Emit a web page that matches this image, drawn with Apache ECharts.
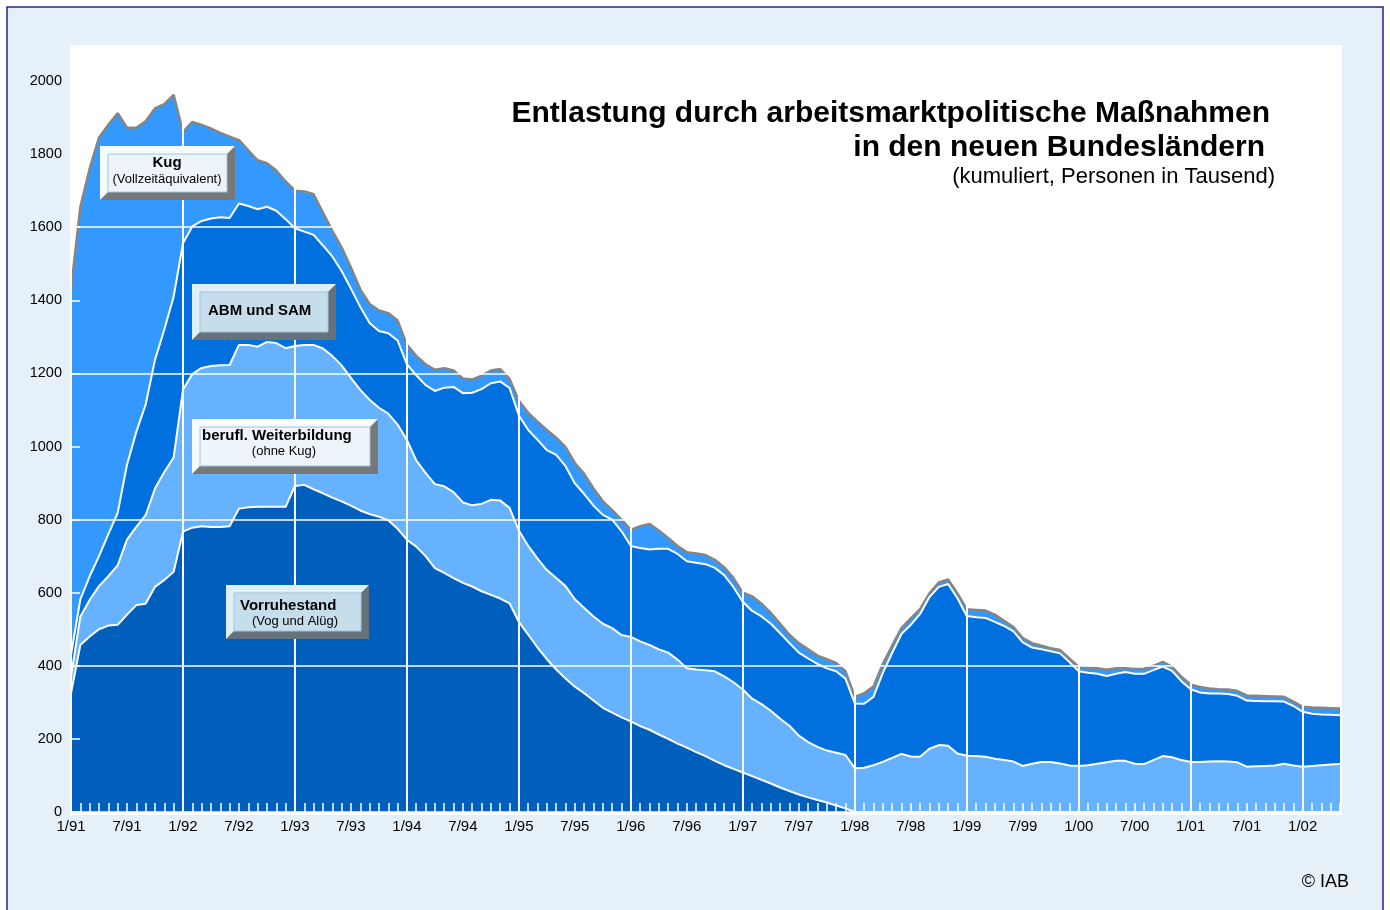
<!DOCTYPE html>
<html>
<head>
<meta charset="utf-8">
<script src="https://cdn.jsdelivr.net/npm/echarts@6/dist/echarts.min.js"></script>
<style>
html, body { margin: 0; padding: 0; background: #fff; }
#chart { width: 1390px; height: 910px; }
</style>
</head>
<body>
<div id="chart"></div>
<script>
// Monatswerte 1/91 .. 5/02 (Personen in Tausend)
const vorruhestand = [
  325, 457, 480, 500, 510, 512, 540, 566, 570, 616, 635, 657,
  767, 778, 782, 780, 780, 782, 830, 834, 835, 835, 835, 835,
  892, 895, 883, 872, 860, 850, 838, 825, 815, 808, 798, 775,
  745, 726, 700, 667, 654, 640, 627, 617, 604, 594, 584, 571,
  520, 485, 450, 418, 390, 365, 343, 325, 305, 285, 272, 259,
  248, 235, 225, 212, 200, 187, 176, 164, 153, 140, 128, 118,
  108, 98, 88, 78, 67, 57, 48, 40, 33, 26, 18, 10,
  0, 0, 0, 0, 0, 0, 0, 0, 0, 0, 0, 0,
  0, 0, 0, 0, 0, 0, 0, 0, 0, 0, 0, 0,
  0, 0, 0, 0, 0, 0, 0, 0, 0, 0, 0, 0,
  0, 0, 0, 0, 0, 0, 0, 0, 0, 0, 0, 0,
  0, 0, 0, 0, 0
]
const weiterbildung = [
  45, 77, 100, 118, 135, 163, 205, 214, 242, 269, 295, 313,
  388, 420, 433, 440, 442, 441, 448, 444, 438, 451, 448, 434,
  383, 383, 395, 396, 388, 372, 350, 330, 313, 298, 292, 285,
  273, 236, 228, 230, 237, 235, 220, 222, 239, 260, 268, 261,
  250, 243, 243, 244, 250, 253, 239, 233, 230, 230, 231, 225,
  231, 232, 232, 233, 236, 230, 217, 226, 235, 245, 243, 237,
  227, 212, 207, 199, 188, 179, 161, 151, 145, 142, 144, 146,
  120, 121, 128, 137, 148, 159, 152, 151, 173, 183, 181, 160,
  154, 153, 151, 146, 142, 138, 126, 132, 137, 137, 133, 127,
  126, 128, 132, 136, 140, 140, 132, 131, 142, 153, 150, 142,
  137, 137, 138, 139, 138, 136, 124, 125, 126, 127, 132, 127,
  124, 126, 128, 130, 131
]
const abmSam = [
  60, 48, 65, 82, 115, 143, 205, 260, 303, 352, 390, 440,
  401, 404, 402, 404, 405, 402, 387, 380, 376, 370, 362, 353,
  322, 310, 301, 282, 272, 258, 244, 227, 210, 210, 220, 230,
  207, 233, 240, 255, 270, 288, 299, 308, 314, 319, 326, 328,
  315, 317, 325, 328, 337, 328, 317, 312, 303, 298, 297, 284,
  249, 255, 261, 275, 284, 289, 293, 292, 290, 283, 277, 260,
  240, 240, 240, 238, 234, 226, 227, 229, 227, 225, 223, 209,
  177, 175, 187, 243, 287, 328, 360, 391, 415, 433, 443, 425,
  382, 380, 380, 374, 367, 356, 338, 318, 308, 303, 301, 283,
  259, 253, 246, 236, 238, 243, 246, 247, 246, 245, 236, 216,
  199, 190, 186, 185, 185, 182, 181, 179, 177, 176, 170, 163,
  150, 143, 139, 136, 134
]
const kug = [
  1000, 1073, 1115, 1145, 1120, 1094, 922, 832, 775, 688, 617, 552,
  304, 286, 263, 246, 231, 223, 173, 152, 134, 119, 110, 103,
  103, 110, 111, 90, 70, 65, 58, 48, 52, 56, 55, 55,
  53, 53, 57, 58, 53, 45, 40, 36, 37, 35, 34, 25,
  40, 47, 50, 55, 47, 52, 56, 55, 47, 37, 26, 32,
  44, 60, 70, 50, 30, 22, 25, 25, 25, 22, 22, 25,
  25, 40, 35, 30, 26, 23, 26, 25, 23, 25, 23, 20,
  18, 29, 28, 25, 20, 16, 18, 13, 10, 12, 12, 13,
  19, 20, 20, 20, 14, 12, 12, 12, 10, 8, 9, 10,
  12, 14, 15, 17, 15, 10, 13, 14, 12, 13, 11, 12,
  12, 15, 14, 12, 12, 13, 14, 14, 14, 13, 13, 12,
  14, 17, 18, 18, 18
]
const yTicks = [0, 200, 400, 600, 800, 1000, 1200, 1400, 1600, 1800, 2000]

// Monatskategorien 1/91 .. 5/02
const months = []
for (let i = 0; i < vorruhestand.length; i++) {
  const yy = (91 + Math.floor(i / 12)) % 100
  months.push((i % 12 + 1) + '/' + String(yy).padStart(2, '0'))
}

const FONT = '"Liberation Sans", Arial, sans-serif'

// Beschriftungskasten mit Relief
function box (x0, y0, x1, y1, face, light, dark, texts) {
  const b = 8
  const els = [
    { type: 'rect', shape: { x: x0, y: y0, width: x1 - x0, height: y1 - y0 }, style: { fill: dark }, z: 50 },
    {
      type: 'polygon',
      shape: { points: [[x0, y0], [x1, y0], [x1 - b, y0 + b], [x0 + b, y0 + b], [x0 + b, y1 - b], [x0, y1]] },
      style: { fill: light },
      z: 51
    },
    {
      type: 'rect',
      shape: { x: x0 + b, y: y0 + b, width: x1 - x0 - 2 * b, height: y1 - y0 - 2 * b },
      style: { fill: face, stroke: '#9cc6e6', lineWidth: 1 },
      z: 52
    }
  ]
  texts.forEach(t => {
    els.push({
      type: 'text',
      x: t.x,
      y: t.y,
      z: 53,
      style: {
        text: t.text,
        fill: '#000',
        font: (t.bold ? 'bold 15px ' : '13px ') + FONT,
        textAlign: t.align || 'center',
        textVerticalAlign: 'middle'
      }
    })
  })
  return els
}

const chart = echarts.init(document.getElementById('chart'))
chart.setOption({
  animation: false,
  backgroundColor: '#fff',
  textStyle: { fontFamily: FONT },
  grid: { left: 71, right: 50, top: 81, bottom: 98 },
  xAxis: {
    type: 'category',
    data: months,
    boundaryGap: false,
    z: 10,
    axisLine: { show: true, lineStyle: { color: '#fff', width: 1 } },
    axisTick: { show: true, inside: true, interval: 0, length: 9, lineStyle: { color: '#fff', width: 1.5 } },
    axisLabel: { interval: 5, color: '#000', fontSize: 15, margin: 7, fontFamily: FONT },
    splitLine: { show: true, interval: 11, lineStyle: { color: '#fff', width: 2 } }
  },
  yAxis: [
    {
      type: 'value',
      min: yTicks[0],
      max: yTicks[yTicks.length - 1],
      interval: 200,
      z: 10,
      axisLine: { show: false },
      axisTick: { show: true, inside: true, length: 9, lineStyle: { color: '#fff', width: 1.5 } },
      axisLabel: { color: '#000', fontSize: 14.5, margin: 9, fontFamily: FONT, formatter: v => String(v) },
      splitLine: { show: false }
    },
    {
      type: 'value',
      position: 'left',
      min: 0,
      max: 2000,
      interval: 400,
      z: 10,
      axisLine: { show: false },
      axisTick: { show: false },
      axisLabel: { show: false },
      splitLine: { show: true, lineStyle: { color: '#fff', width: 1.5 } }
    }
  ],
  series: [
    {
      name: 'Vorruhestand',
      type: 'line',
      stack: 'gesamt',
      data: vorruhestand,
      symbol: 'none',
      z: 5,
      lineStyle: { color: '#fff', width: 2 },
      areaStyle: { color: '#005ebd', opacity: 1 }
    },
    {
      name: 'berufl. Weiterbildung',
      type: 'line',
      stack: 'gesamt',
      data: weiterbildung,
      symbol: 'none',
      z: 4,
      lineStyle: { color: '#fff', width: 2 },
      areaStyle: { color: '#66b2ff', opacity: 1 }
    },
    {
      name: 'ABM und SAM',
      type: 'line',
      stack: 'gesamt',
      data: abmSam,
      symbol: 'none',
      z: 3,
      lineStyle: { color: '#fff', width: 2 },
      areaStyle: { color: '#0070df', opacity: 1 }
    },
    {
      name: 'Kug',
      type: 'line',
      stack: 'gesamt',
      data: kug,
      symbol: 'none',
      z: 2,
      lineStyle: { color: '#858585', width: 2.5 },
      areaStyle: { color: '#3399ff', opacity: 1 }
    }
  ],
  graphic: [
    // Hintergrund
    { type: 'rect', shape: { x: 7, y: 7, width: 1376, height: 930 }, style: { fill: '#e6f0f8', stroke: '#22228f', lineWidth: 1.5 }, z: -20, silent: true },
    { type: 'rect', shape: { x: 70, y: 45, width: 1272, height: 770 }, style: { fill: '#fff' }, z: -19, silent: true },
    // Titel
    { type: 'text', x: 1270, y: 114, z: 30, style: { text: 'Entlastung durch arbeitsmarktpolitische Maßnahmen', font: 'bold 30px ' + FONT, fill: '#000', textAlign: 'right', textVerticalAlign: 'middle' } },
    { type: 'text', x: 1265, y: 148, z: 30, style: { text: 'in den neuen Bundesländern', font: 'bold 30px ' + FONT, fill: '#000', textAlign: 'right', textVerticalAlign: 'middle' } },
    { type: 'text', x: 1275, y: 177, z: 30, style: { text: '(kumuliert, Personen in Tausend)', font: '22px ' + FONT, fill: '#000', textAlign: 'right', textVerticalAlign: 'middle' } },
    { type: 'text', x: 1349, y: 882, z: 30, style: { text: '© IAB', font: '18px ' + FONT, fill: '#000', textAlign: 'right', textVerticalAlign: 'middle' } },
    // Beschriftungskästen
    ...box(100, 146, 235, 200, '#edf5fa', '#f8fbfd', '#787878', [
      { text: 'Kug', x: 167, y: 163, bold: true },
      { text: '(Vollzeitäquivalent)', x: 167, y: 179 }
    ]),
    ...box(192, 284, 336, 340, '#c6deec', '#e0eef6', '#67717a', [
      { text: 'ABM und SAM', x: 208, y: 311, bold: true, align: 'left' }
    ]),
    ...box(192, 419, 378, 474, '#edf5fa', '#f8fbfd', '#787878', [
      { text: 'berufl. Weiterbildung', x: 202, y: 436, bold: true, align: 'left' },
      { text: '(ohne Kug)', x: 284, y: 451 }
    ]),
    ...box(226, 585, 369, 639, '#c6deec', '#e0eef6', '#67717a', [
      { text: 'Vorruhestand', x: 240, y: 606, bold: true, align: 'left' },
      { text: '(Vog und Alüg)', x: 295, y: 621 }
    ])
  ]
})
</script>
</body>
</html>
